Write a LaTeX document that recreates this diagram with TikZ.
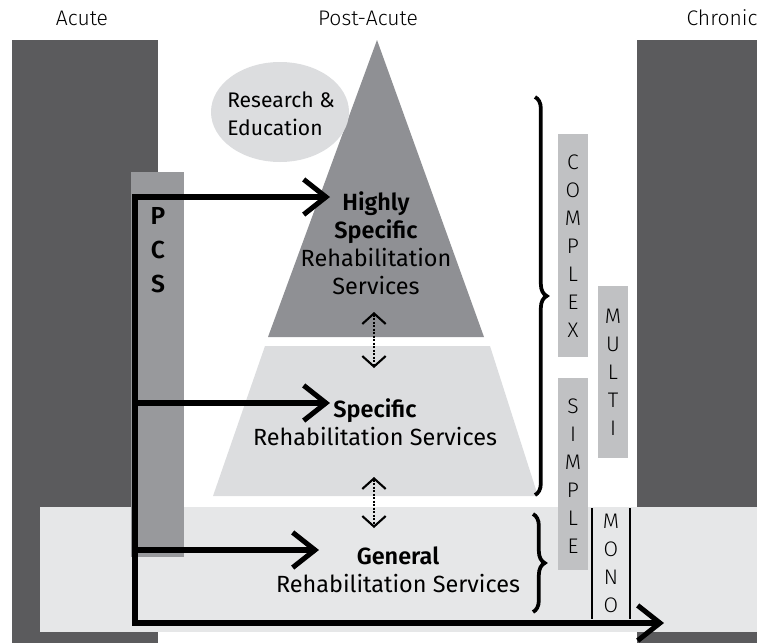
\documentclass[tikz,border=0pt]{standalone}
\usepackage{fontspec}
\setmainfont{Fira Sans}[BoldFont=* SemiBold]
\newfontfamily\tagfont{Fira Sans}[UprightFont=* Light]
\usetikzlibrary{arrows.meta,decorations.pathreplacing,positioning}
\definecolor{barDark}{HTML}{5B5B5D}
\definecolor{topGrey}{HTML}{8F9094}
\definecolor{pcsGrey}{HTML}{98999C}
\definecolor{paleGrey}{HTML}{DCDDDF}
\definecolor{bandGrey}{HTML}{E6E7E8}
\definecolor{tagGrey}{HTML}{C0C1C3}
\begin{document}
\begin{tikzpicture}[x=0.3mm, y=-0.3mm,
    every node/.style={inner sep=0pt, font=\tagfont\fontsize{18}{24}\selectfont},
    flow/.style={line width=4.3pt, -{Straight Barb[length=19pt, width=30pt]}},
    twoway/.style={line width=1.8pt, dash pattern=on 1.8pt off 1.2pt,
        {Straight Barb[length=9pt, width=20pt]}-{Straight Barb[length=9pt, width=20pt]}},
    stack/.style={align=center, font=\tagfont\fontsize{18}{23.9}\selectfont},
    tier/.style={align=center, font=\rmfamily\fontsize{20}{23.9}\selectfont},
    curly/.style={line width=3.2pt, decorate, decoration={brace, amplitude=10pt}}]
    \useasboundingbox (0,0) rectangle (771,643);

    % phases
    \fill[barDark] (12,40) rectangle (158,643);
    \fill[barDark] (637,40) rectangle (757,643);
    \fill[bandGrey] (40,507) rectangle (757,632);
    \node (acute) at (82,18) {Acute};
    \node (postacute) at (368,18) {Post-Acute};
    \node (chronic) at (722,18) {Chronic};

    % pyramid
    \fill[topGrey] (377,40) -- (484,337) -- (268,337) -- cycle;
    \fill[paleGrey] (265,346) -- (490,346) -- (538,496) -- (213,496) -- cycle;
    \fill[paleGrey] (280,112) ellipse [x radius=69, y radius=50];
    \node[align=left, font=\rmfamily\fontsize{18}{23.9}\selectfont] (research) at (281,114) {Research \&\\Education};

    \node[tier] (highly) at (376,243) {\textbf{Highly}\\\textbf{Specific}\\Rehabilitation\\Services};
    \node[tier] (specific) at (375,422) {\textbf{Specific}\\Rehabilitation Services};
    \node[tier] (general) at (398,570) {\textbf{General}\\Rehabilitation Services};

    \coordinate (top low) at (374,312);
    \coordinate (mid high) at (374,368);
    \coordinate (mid low) at (374,477);
    \coordinate (base high) at (374,528);
    \draw[twoway] (top low) -- (mid high);
    \draw[twoway] (mid low) -- (base high);

    % PCS
    \fill[pcsGrey] (131,172) rectangle (184,557);
    \node[align=center, font=\rmfamily\fontsize{21}{29}\bfseries\selectfont] (pcs) at (158,250) {P\\C\\S};

    \coordinate (spine top) at (135,197);
    \coordinate (spine bottom) at (135,623);
    \coordinate (highly in) at (330,197);
    \coordinate (specific in) at (330,403);
    \coordinate (general in) at (319,550);
    \coordinate (chronic in) at (664,623);
    \draw[flow] (spine bottom) |- (highly in);
    \draw[flow] (spine top) |- (chronic in);
    \draw[flow] (spine top |- specific in) -- (specific in);
    \draw[flow] (spine top |- general in) -- (general in);

    % complexity
    \draw[curly] (535,97) -- (535,495);
    \draw[curly] (533,514) -- (533,612);
    \fill[tagGrey] (558,134) rectangle (588,357);
    \fill[tagGrey] (558,378) rectangle (588,570);
    \fill[tagGrey] (598,286) rectangle (628,458);
    \node[stack] (complex) at (573,246) {C\\O\\M\\P\\L\\E\\X};
    \node[stack] (simple) at (573,476) {S\\I\\M\\P\\L\\E};
    \node[stack] (multi) at (613,372) {M\\U\\L\\T\\I};
    \draw[line width=1.6pt] (592,508) -- (592,619);
    \draw[line width=1.6pt] (630,508) -- (630,619);
    \node[stack] (mono) at (611,563) {M\\O\\N\\O};
\end{tikzpicture}
\end{document}
